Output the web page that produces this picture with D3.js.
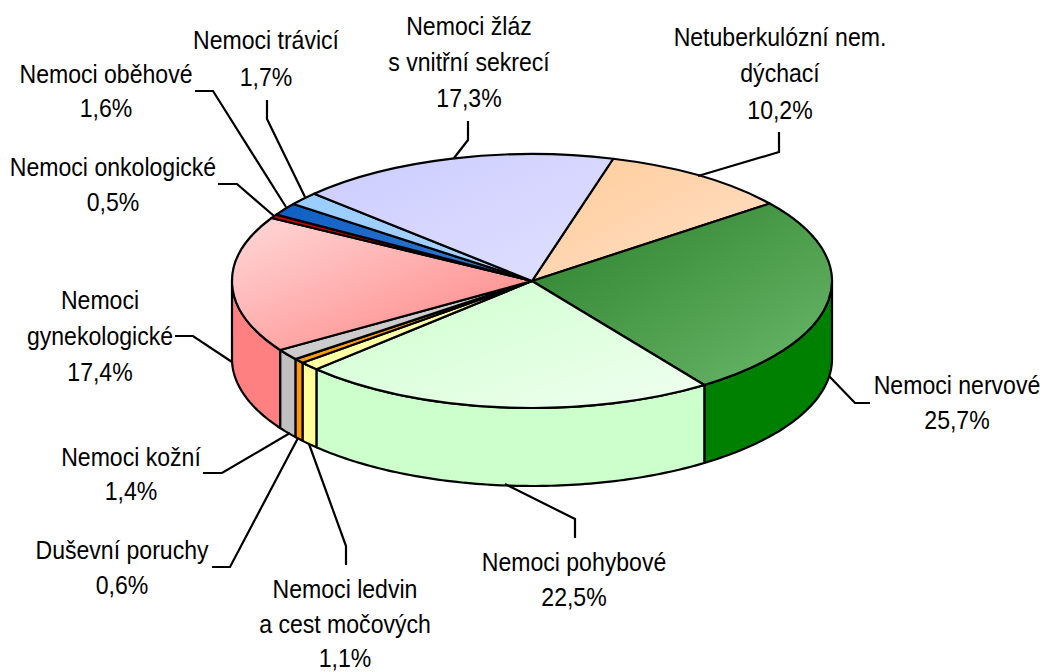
<!DOCTYPE html>
<html><head><meta charset="utf-8">
<script src="https://cdn.jsdelivr.net/npm/d3@7"></script>
<style>html,body{margin:0;padding:0;background:#fff}svg{display:block}text{font-family:"Liberation Sans",Arial,sans-serif;font-size:25.5px;fill:#000}</style>
</head><body><svg id="c" width="1043" height="672"></svg>
<script>
const categories = ["Netuberkulózní nem. dýchací","Nemoci nervové","Nemoci pohybové","Nemoci ledvin a cest močových","Duševní poruchy","Nemoci kožní","Nemoci gynekologické","Nemoci onkologické","Nemoci oběhové","Nemoci trávicí","Nemoci žláz s vnitřní sekrecí"];
const values = [10.2,25.7,22.5,1.1,0.6,1.4,17.4,0.5,1.6,1.7,17.3];
const valueLabels = ["10,2%","25,7%","22,5%","1,1%","0,6%","1,4%","17,4%","0,5%","1,6%","1,7%","17,3%"];
const labelLines = [["Netuberkulózní nem.","dýchací"],["Nemoci nervové"],["Nemoci pohybové"],["Nemoci ledvin","a cest močových"],["Duševní poruchy"],["Nemoci kožní"],["Nemoci","gynekologické"],["Nemoci onkologické"],["Nemoci oběhové"],["Nemoci trávicí"],["Nemoci žláz","s vnitřní sekrecí"]];
const sideColors = ["#ffcc99","#008000","#ccffcc","#ffff99","#ff9900","#c0c0c0","#ff8080","#990000","#0d5fc4","#99ccff","#ccccff"];
const topFrom = ["#ffcc99","#2a802a","#ccffcc","#ffff99","#ff9900","#c8c8c8","#ffd8d8","#cc0000","#0d5fc4","#99ccff","#ccccff"];
const topTo = ["#ffe0c8","#6cb86c","#f0fff0","#ffffb0","#ffa500","#d0d0d0","#ff8080","#cc0000","#3a7ad0","#a8d4ff","#e0e0ff"];
// layout of the labels (centre x, line baselines) and leader lines
const labelX = [780,957,574,345,122,131,100,113,106,266,469];
const labelY = [[46,82,119],[394,429],[571,606],[598,633,667],[559,594],[466,500],[309,345,381],[176,211],[83,117],[49,86],[35,71,107]];
const leaders = [
 [[698,176],[779,152],[779,132]],
 [[829,376],[855,403],[870,403]],
 [[505,484],[575,519],[575,538]],
 [[309,444],[346,546],[346,565]],
 [[298,438],[230,567],[212,567]],
 [[290,433],[222,473],[203,473]],
 [[232,362],[193,336],[175,336]],
 [[274,216],[237,184],[218,184]],
 [[286,207],[213,91],[195,91]],
 [[305,197],[267,119],[267,100]],
 [[454,158],[468,140],[468,121]]];

const cx=532, cy=281, rx=300, ry=127, depth=78, lw=2.2, textScaleX=0.905;
const startDeg=15.7;
const svg=d3.select("#c");
const defs=svg.append("defs");
const pie=d3.pie().sort(null).value(d=>d)
  .startAngle(startDeg*Math.PI/180).endAngle((startDeg+360)*Math.PI/180);
const arcs=pie(values);
const px=a=>cx+rx*Math.sin(a), py=a=>cy-ry*Math.cos(a);

arcs.forEach((d,i)=>{
  const g=defs.append("linearGradient").attr("id","g"+i)
    .attr("x1",0).attr("y1",0).attr("x2",1).attr("y2",1);
  g.append("stop").attr("offset",0).attr("stop-color",topFrom[i]);
  g.append("stop").attr("offset",1).attr("stop-color",topTo[i]);
});

// sides
const line=d3.line().x(d=>d[0]).y(d=>d[1]);
const fl=Math.PI/2, fr=3*Math.PI/2;
arcs.forEach((d,i)=>{
  const a0=Math.max(d.startAngle,fl), a1=Math.min(d.endAngle,fr);
  if(a1<=a0) return;
  const n=Math.max(2,Math.ceil((a1-a0)*60));
  const as=d3.range(n+1).map(k=>a0+(a1-a0)*k/n);
  const top=as.map(a=>[px(a),py(a)]);
  const bot=as.slice().reverse().map(a=>[px(a),py(a)+depth]);
  svg.append("path").attr("d",line(top.concat(bot))+"Z")
    .attr("fill",sideColors[i]).attr("stroke","#000").attr("stroke-width",lw).attr("stroke-linejoin","round");
});

// top face
const arcGen=d3.arc().innerRadius(0).outerRadius(rx);
const topG=svg.append("g").attr("transform",`translate(${cx},${cy}) scale(1,${ry/rx})`);
topG.selectAll("path").data(arcs).join("path")
  .attr("d",arcGen).attr("fill",(d,i)=>`url(#g${i})`)
  .attr("stroke","#000").attr("stroke-width",lw).attr("vector-effect","non-scaling-stroke")
  .attr("stroke-linejoin","round");

// leaders
svg.append("g").selectAll("path").data(leaders).join("path")
  .attr("d",line).attr("fill","none").attr("stroke","#000").attr("stroke-width",lw);

// labels
categories.forEach((c,i)=>{
  const t=svg.append("text").attr("text-anchor","middle")
    .attr("transform",`translate(${labelX[i]},0) scale(${textScaleX},1)`);
  labelLines[i].concat([valueLabels[i]]).forEach((s,k)=>
    t.append("tspan").attr("x",0).attr("y",labelY[i][k]).text(s));
});
</script></body></html>
